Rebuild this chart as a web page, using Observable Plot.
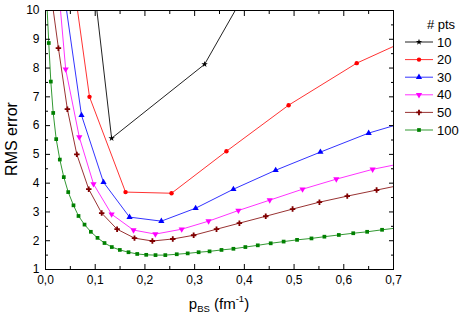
<!DOCTYPE html>
<html><head><meta charset="utf-8">
<script src="https://cdn.jsdelivr.net/npm/d3@7"></script>
<script src="https://cdn.jsdelivr.net/npm/@observablehq/plot@0.6"></script>
<style>
body{margin:0;background:#fff;font-family:"Liberation Sans",Arial,sans-serif;}
#wrap{position:relative;width:463px;height:322px;overflow:hidden;}
#xlabel{position:absolute;left:0;width:438px;text-align:center;top:293px;font-size:15px;color:#000;}
#xlabel sub{font-size:9.5px;vertical-align:-3px;}
#xlabel sup{font-size:9.5px;vertical-align:7px;}
#ylabel{position:absolute;left:12px;top:139px;font-size:16px;transform:translate(-50%,-50%) rotate(-90deg);white-space:nowrap;color:#000;}
</style></head><body><div id="wrap"></div><script>
// ---- data ----
const seriesNames = [10, 20, 30, 40, 50, 100];
const seriesColors = ["#000000", "#ff0000", "#0000ff", "#ff00ff", "#800000", "#008000"];
const lineColors = ["#222222", "#ff3333", "#3333ff", "#ff33ff", "#993333", "#339933"];

const x10 = [0.05, 0.133, 0.32, 0.51];
const y10 = [18, 5.56, 8.13, 13.9];
const x20 = [0.03, 0.0885, 0.161, 0.2535, 0.364, 0.489, 0.626, 0.776];
const y20 = [14.3, 7.0, 3.69, 3.65, 5.11, 6.71, 8.17, 9.35];
const x30 = [0.035, 0.0724, 0.1167, 0.169, 0.233, 0.302, 0.378, 0.463, 0.553, 0.65, 0.75];
const y30 = [10.9, 6.36, 4.03, 2.82, 2.68, 3.13, 3.79, 4.45, 5.08, 5.74, 6.25];
const x40 = [0.015, 0.0406, 0.068, 0.0966, 0.133, 0.177, 0.221, 0.274, 0.328, 0.388, 0.451, 0.517, 0.585, 0.658, 0.735];
const y40 = [13, 7.96, 5.6, 3.97, 2.92, 2.37, 2.23, 2.40, 2.68, 3.05, 3.41, 3.79, 4.14, 4.48, 4.75];
const x50 = [0.011, 0.026, 0.044, 0.063, 0.087, 0.113, 0.144, 0.179, 0.215, 0.256, 0.298, 0.344, 0.390, 0.443, 0.497, 0.551, 0.607, 0.666, 0.725];
const y50 = [10.6, 8.69, 6.57, 5.0, 3.79, 2.96, 2.40, 2.09, 1.99, 2.06, 2.19, 2.40, 2.61, 2.85, 3.10, 3.34, 3.55, 3.76, 3.97];
const x100 = [0.0026, 0.0066, 0.0107, 0.0155, 0.0215, 0.0288, 0.0368, 0.0457, 0.0563, 0.0664, 0.0785, 0.0912, 0.1046, 0.1187, 0.1334, 0.1495, 0.167, 0.1845, 0.2026, 0.2213, 0.241, 0.264, 0.286, 0.308, 0.330, 0.354, 0.378, 0.402, 0.427, 0.453, 0.479, 0.506, 0.535, 0.561, 0.590, 0.619, 0.647, 0.677, 0.706];
const y100 = [10.3, 8.87, 7.53, 6.44, 5.53, 4.82, 4.21, 3.69, 3.23, 2.86, 2.56, 2.31, 2.10, 1.92, 1.78, 1.68, 1.60, 1.54, 1.51, 1.50, 1.50, 1.53, 1.56, 1.60, 1.63, 1.68, 1.72, 1.78, 1.84, 1.91, 1.97, 2.03, 2.08, 2.14, 2.20, 2.26, 2.31, 2.38, 2.44];

const xMajorTicks = [0, 0.1, 0.2, 0.3, 0.4, 0.5, 0.6, 0.7];
const xMinorTicks = [0.05, 0.15, 0.25, 0.35, 0.45, 0.55, 0.65];
const yMajorTicks = [1, 2, 3, 4, 5, 6, 7, 8, 9, 10];
const yMinorTicks = [1.5, 2.5, 3.5, 4.5, 5.5, 6.5, 7.5, 8.5, 9.5];

// ---- symbols ----
const triangleDown = {
  draw(ctx, size) {
    const y = -Math.sqrt(size / (3 * Math.sqrt(3)));
    ctx.moveTo(0, -y * 2);
    ctx.lineTo(-Math.sqrt(3) * y, y);
    ctx.lineTo(Math.sqrt(3) * y, y);
    ctx.closePath();
  }
};
const symbols = [d3.symbolStar, d3.symbolCircle, d3.symbolTriangle, triangleDown, d3.symbolCross, d3.symbolSquare];
const radii = [2.0, 2.2, 2.3, 2.3, 2.3, 2.1];

const xs = [x10, x20, x30, x40, x50, x100];
const ys = [y10, y20, y30, y40, y50, y100];
const series = seriesNames.map((n, i) => xs[i].map((x, j) => ({n, x, y: ys[i][j]})));

const fmt = d => d.toFixed(1).replace(".", ",");

const marks = [];
series.forEach((data, i) => {
  marks.push(Plot.line(data, {x: "x", y: "y", stroke: lineColors[i], strokeWidth: 1, clip: true}));
});
series.forEach((data, i) => {
  marks.push(Plot.dot(data, {x: "x", y: "y", symbol: symbols[i], r: radii[i], fill: seriesColors[i], stroke: "none", clip: true}));
});

const noText = () => "";
const chart = Plot.plot({
  width: 463,
  height: 322,
  marginLeft: 45,
  marginRight: 70,
  marginTop: 10,
  marginBottom: 53,
  style: {fontFamily: "'Liberation Sans', Arial, sans-serif", fontSize: "12px", background: "white", color: "black"},
  x: {domain: [0, 0.7]},
  y: {domain: [1, 10]},
  marks: [
    ...marks,
    Plot.frame({stroke: "black", strokeWidth: 1}),
    Plot.axisX(xMajorTicks, {anchor: "bottom", tickSize: 0, tickPadding: 6, tickFormat: fmt, label: null, fontSize: 12}),
    Plot.axisX(xMajorTicks, {anchor: "bottom", tickSize: 5, dy: -5, tickFormat: noText, label: null}),
    Plot.axisX(xMinorTicks, {anchor: "bottom", tickSize: 3, dy: -3, tickFormat: noText, label: null}),
    Plot.axisX(xMajorTicks, {anchor: "top", tickSize: 5, dy: 5, tickFormat: noText, label: null}),
    Plot.axisX(xMinorTicks, {anchor: "top", tickSize: 3, dy: 3, tickFormat: noText, label: null}),
    Plot.axisY(yMajorTicks, {anchor: "left", tickSize: 0, tickPadding: 6, tickFormat: d => String(d), label: null, fontSize: 12}),
    Plot.axisY(yMajorTicks, {anchor: "left", tickSize: 5, dx: 5, tickFormat: noText, label: null}),
    Plot.axisY(yMinorTicks, {anchor: "left", tickSize: 3, dx: 3, tickFormat: noText, label: null}),
    Plot.axisY(yMajorTicks, {anchor: "right", tickSize: 5, dx: -5, tickFormat: noText, label: null}),
    Plot.axisY(yMinorTicks, {anchor: "right", tickSize: 3, dx: -3, tickFormat: noText, label: null})
  ]
});

const wrap = document.getElementById("wrap");
wrap.appendChild(chart);

const xl = document.createElement("div");
xl.id = "xlabel";
xl.innerHTML = "p<sub>BS</sub> (fm<sup>-1</sup>)";
wrap.appendChild(xl);
const yl = document.createElement("div");
yl.id = "ylabel";
yl.textContent = "RMS error";
wrap.appendChild(yl);

// legend
const lg = d3.create("svg").attr("width", 68).attr("height", 130)
  .style("position", "absolute").style("left", "395px").style("top", "8px");
lg.append("text").attr("x", 46).attr("y", 21).attr("text-anchor", "middle")
  .attr("font-family", "'Liberation Sans', Arial, sans-serif").attr("font-size", 13).text("# pts");
seriesNames.forEach((n, i) => {
  const cy = 34 + i * 17.6;
  const g = lg.append("g").attr("transform", `translate(0,${cy})`);
  g.append("line").attr("x1", 10).attr("x2", 38).attr("y1", 0).attr("y2", 0).attr("stroke", lineColors[i]);
  g.append("path").attr("transform", "translate(24,0)")
    .attr("d", d3.symbol(symbols[i], Math.PI * radii[i] * radii[i])())
    .attr("fill", seriesColors[i]);
  g.append("text").attr("x", 42).attr("y", 0).attr("dy", "0.36em")
    .attr("font-family", "'Liberation Sans', Arial, sans-serif").attr("font-size", 13).text(String(n));
});
wrap.appendChild(lg.node());
</script></body></html>
